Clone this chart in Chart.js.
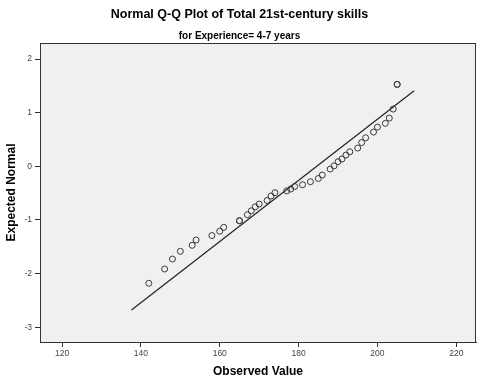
<!DOCTYPE html>
<html>
<head>
<meta charset="utf-8">
<script src="https://cdn.jsdelivr.net/npm/chart.js@4.4.1/dist/chart.umd.min.js"></script>
<style>
  html, body { margin: 0; padding: 0; background: #fff; }
</style>
</head>
<body>
<canvas id="qq" width="480" height="385"></canvas>
<script>
// observed scores (ties repeated) and their expected normal values
const observed = [142, 146, 148, 150, 153, 154, 158, 160, 161, 165, 165, 167, 168, 169, 170,
    172, 173, 174, 177, 178, 179, 181, 183, 185, 186, 188, 189, 190, 191, 192,
    193, 195, 196, 197, 199, 200, 202, 203, 204, 205, 205];
const expected = [-2.18, -1.914, -1.728, -1.584, -1.472, -1.373, -1.29, -1.209, -1.137, -1.014, -1.014, -0.902, -0.829, -0.755, -0.703,
    -0.637, -0.553, -0.492, -0.457, -0.423, -0.376, -0.343, -0.287, -0.227, -0.162, -0.05, 0.009, 0.086, 0.136, 0.21,
    0.272, 0.341, 0.444, 0.533, 0.639, 0.732, 0.801, 0.9, 1.068, 1.528, 1.528];

// reference line from the fitted mean and sd
const lineMean = 184.6;
const lineSd = 17.54;
const lineX = [137.6, 209.3];

const xTicks = [120, 140, 160, 180, 200, 220];
const yTicks = [-3, -2, -1, 0, 1, 2];

const ink = '#333';

// grey plot background and a full box around it
const plotFrame = {
    id: 'plotFrame',
    beforeDraw(chart) {
        const { ctx, chartArea: a } = chart;
        ctx.save();
        ctx.fillStyle = '#f0f0f0';
        ctx.fillRect(a.left, a.top, a.right - a.left, a.bottom - a.top);
        ctx.restore();
    },
    afterDraw(chart) {
        const { ctx, chartArea: a } = chart;
        ctx.save();
        ctx.strokeStyle = ink;
        ctx.lineWidth = 1;
        ctx.strokeRect(Math.round(a.left) + 0.5, Math.round(a.top) + 0.5,
            Math.round(a.right - a.left) - 1, Math.round(a.bottom - a.top));
        ctx.restore();
    },
};

Chart.defaults.font.family = '"Liberation Sans", Arial, sans-serif';
Chart.defaults.color = ink;

new Chart(document.getElementById('qq'), {
    type: 'scatter',
    data: {
        datasets: [
            {
                data: observed.map((x, i) => ({ x, y: expected[i] })),
                pointRadius: 3,
                pointHoverRadius: 3,
                borderWidth: 1,
                borderColor: '#3a3a3a',
                backgroundColor: 'rgba(0,0,0,0)',
            },
            {
                data: lineX.map(x => ({ x, y: (x - lineMean) / lineSd })),
                showLine: true,
                pointRadius: 0,
                borderWidth: 1.2,
                borderColor: '#222',
            },
        ],
    },
    options: {
        responsive: false,
        animation: false,
        devicePixelRatio: 1,
        layout: { padding: { right: 1 } },
        plugins: {
            legend: { display: false },
            tooltip: { enabled: false },
            title: {
                display: true,
                text: 'Normal Q-Q Plot of Total 21st-century skills',
                color: '#000',
                font: { size: 12.5, weight: 'bold' },
                padding: { top: 6.8, bottom: 0 },
            },
            subtitle: {
                display: true,
                text: 'for Experience= 4-7 years',
                color: '#000',
                font: { size: 10, weight: 'bold' },
                padding: { top: 8.2, bottom: 1 },
            },
        },
        scales: {
            x: {
                type: 'linear',
                min: 114.4,
                max: 225,
                afterBuildTicks: s => { s.ticks = xTicks.map(v => ({ value: v })); },
                afterFit: s => { s.height = 43; },
                ticks: { font: { size: 8.5 }, color: '#444', padding: 2 },
                grid: { drawOnChartArea: false, tickLength: 5, color: ink },
                border: { color: ink },
                title: {
                    display: true,
                    text: 'Observed Value',
                    color: '#000',
                    font: { size: 12, weight: 'bold' },
                    padding: { top: 0, bottom: 5.8 },
                },
            },
            y: {
                min: -3.275,
                max: 2.3,
                afterBuildTicks: s => { s.ticks = yTicks.map(v => ({ value: v })); },
                afterFit: s => { s.width = 40; },
                ticks: { font: { size: 8.5 }, color: '#444', padding: 3 },
                grid: { drawOnChartArea: false, tickLength: 5, color: ink },
                border: { color: ink },
                title: {
                    display: true,
                    text: 'Expected Normal',
                    color: '#000',
                    font: { size: 12, weight: 'bold' },
                    padding: { top: 4.8, bottom: 0 },
                },
            },
        },
    },
    plugins: [plotFrame],
});
</script>
</body>
</html>
